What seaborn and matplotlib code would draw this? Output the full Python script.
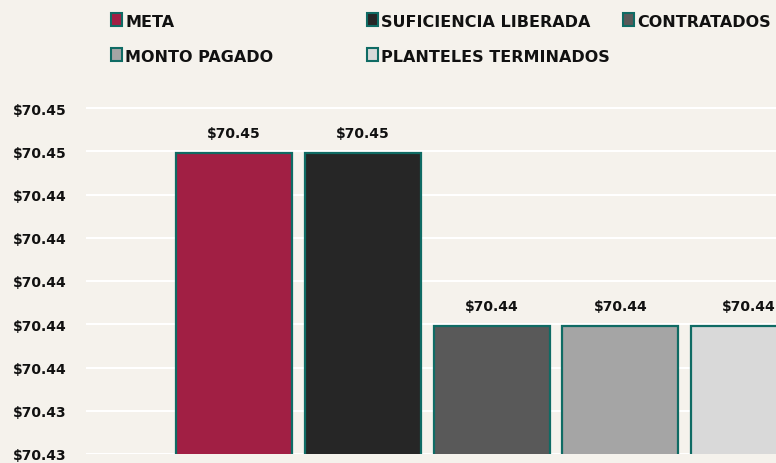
import pandas as pd
import numpy as np
import seaborn as sns
import matplotlib.pyplot as plt
from matplotlib.patches import Rectangle
from matplotlib.ticker import FuncFormatter

# datos del grafico
series = ["META", "SUFICIENCIA LIBERADA", "CONTRATADOS", "MONTO PAGADO", "PLANTELES TERMINADOS"]
valores = [70.4459, 70.4459, 70.4379, 70.4379, 70.4379]
colores = ["#A11F44", "#262626", "#595959", "#A5A5A5", "#D9D9D9"]
y_ticks = [70.432, 70.434, 70.436, 70.438, 70.440, 70.442, 70.444, 70.446, 70.448]

fondo = "#F5F2EC"
borde = "#0F6B64"

plt.rcParams['font.family'] = ['DejaVu Sans']

df = pd.DataFrame({"grupo": [""] * len(series), "serie": series, "valor": valores})

W, H = 776, 464
fig = plt.figure(figsize=(W / 100, H / 100), dpi=100)
fig.patch.set_facecolor(fondo)

# el area del grafico sigue mas alla del borde derecho (la ultima barra queda cortada)
alto = 346 * 17 / 16
ax = fig.add_axes([86 / W, 9 / H, 808 / W, alto / H])
ax.set_facecolor(fondo)

sns.barplot(data=df, x="grupo", y="valor", hue="serie", hue_order=series,
            palette=dict(zip(series, colores)), saturation=1, errorbar=None,
            width=0.8, gap=0.1, edgecolor=borde, linewidth=1.6, legend=False, ax=ax)

ax.set_xlim(-0.504, 0.5)
ax.set_ylim(70.432, 70.449)
ax.set_yticks(y_ticks)
ax.yaxis.set_major_formatter(FuncFormatter(lambda v, _: f"${v:.2f}"))
ax.tick_params(axis="y", length=0, pad=14, labelsize=10, labelcolor="#111111")
for lab in ax.get_yticklabels():
    lab.set_fontweight("bold")
ax.set_xticks([])
ax.set_xlabel("")
ax.set_ylabel("")
for s in ax.spines.values():
    s.set_visible(False)
ax.yaxis.grid(True, color="white", linewidth=1.5)
ax.xaxis.grid(False)
ax.set_axisbelow(True)

for cont in ax.containers:
    ax.bar_label(cont, fmt=lambda v: f"${v:.2f}", padding=10, fontsize=10,
                 fontweight="bold", color="#111111")

# leyenda arriba, tres columnas
for i, (nombre, col) in enumerate(zip(series, colores)):
    x0 = 111 + 256 * (i % 3)
    base = 27 + 35 * (i // 3)
    fig.add_artist(Rectangle((x0 / W, (H - base) / H), 11 / W, 13 / H,
                             transform=fig.transFigure, facecolor=col,
                             edgecolor=borde, linewidth=1.5))
    fig.text((x0 + 14) / W, (H - base) / H, nombre, va="baseline", ha="left",
             fontsize=11.5, fontweight="bold", color="#111111")

fig.savefig("out.png", dpi=100, facecolor=fondo)
